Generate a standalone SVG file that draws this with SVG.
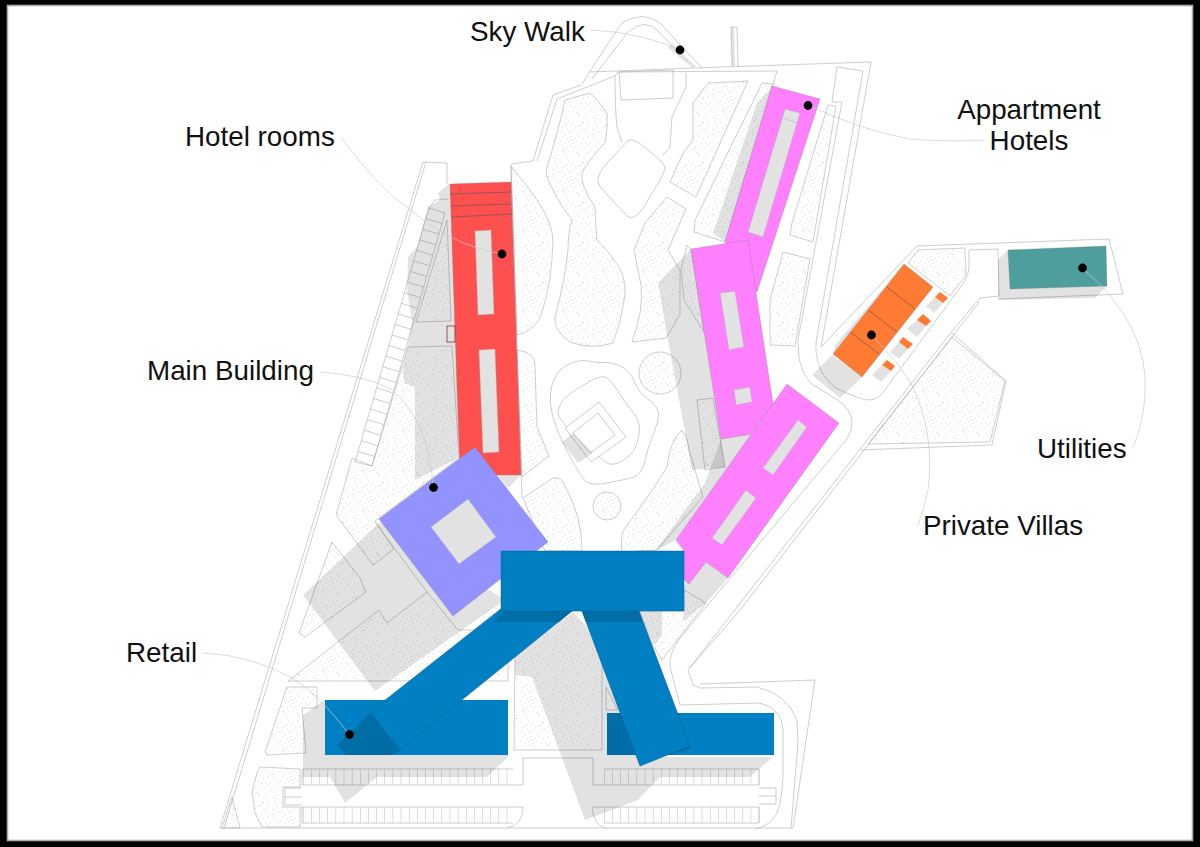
<svg xmlns="http://www.w3.org/2000/svg" width="1200" height="847" viewBox="0 0 1200 847">
<style>
.l{fill:none;stroke:#adadad;stroke-width:.6;stroke-linejoin:round}
.g{fill:url(#st);stroke:#adadad;stroke-width:.6;stroke-linejoin:round}
.s{fill:#000;fill-opacity:.115;stroke:none}
.h{fill:#e2e2e2;stroke:#a8a8a8;stroke-width:.4}
.lead{fill:none;stroke:#cbcbcb;stroke-width:.7}
.t{font-family:"Liberation Sans",Arial,sans-serif;font-size:27.8px;fill:#111}
.b{stroke:#777;stroke-width:.3}
.bl{fill:#0080c2;stroke:#00588a;stroke-width:.5}
.dk{fill:#006da6}
.tick{fill:none;stroke:#bcbcbc;stroke-width:16;stroke-dasharray:.5 7.65}
.ln{fill:none;stroke:#555;stroke-width:.6}
</style>
<defs>
<pattern id="st" width="40" height="40" patternUnits="userSpaceOnUse">
<rect width="40" height="40" fill="#fff"/>
<path fill="none" stroke="#b2b2b2" stroke-width=".6" stroke-linecap="round" d="M1 2h.01M5.500 4h.01M9 1h.01M13 3.500h.01M17.500 1.500h.01M21 4.500h.01M26 2h.01M30 5h.01M34.500 1h.01M38 3.500h.01M3 7.500h.01M7.500 9h.01M11 6.500h.01M15.500 8h.01M19 6.500h.01M24 8.500h.01M28 7h.01M32.500 9.500h.01M36.500 7h.01M1.500 12h.01M5 14h.01M9.500 12.500h.01M13.500 11h.01M17 13.500h.01M22 12h.01M26 11.500h.01M30 13.500h.01M34 12h.01M38.500 11.500h.01M3.500 17h.01M7 19h.01M11.500 16.500h.01M15 18h.01M19.500 16h.01M23.500 18.500h.01M28 16.500h.01M32 18h.01M36 16h.01M1 21.500h.01M5.500 23h.01M9 21.500h.01M13 23h.01M17.500 21h.01M21.500 23.500h.01M26 21h.01M30.500 22.500h.01M34.500 21h.01M38.500 23h.01M3 26.500h.01M7.500 28h.01M11 25.500h.01M15.500 27.500h.01M19.500 26h.01M24 28h.01M28 25.500h.01M32 27.500h.01M36.500 26h.01M1.500 31h.01M5 33h.01M9.500 31.500h.01M13.500 30h.01M17 32.500h.01M22 31h.01M26.500 33h.01M30 30.500h.01M34 32h.01M38 30.500h.01M3.500 36h.01M7 38h.01M11.500 35.500h.01M15 37.500h.01M19.500 35.500h.01M24 37.500h.01M28 35.500h.01M32.500 37.500h.01M36.500 35.500h.01"/>
<path fill="none" stroke="#777" stroke-width=".6" stroke-linecap="round" d="M6 6h.01M23 2.500h.01M33 14.500h.01M12 20h.01M27 24h.01M4 30.500h.01M18 34.500h.01M36 38.500h.01"/>
</pattern>
</defs>

<g id="frame">
<rect width="1200" height="847" fill="#000"/>
<rect x="7.500" y="5.500" width="1185" height="835" fill="#fff" stroke="#aaa" stroke-width="1.6"/>
</g>

<g id="gardens">
<path class="g" d="M511,166 L530,190 Q553,220 553,240 Q552,285 540,318 Q532,332 517,335 Z"/>
<path class="g" d="M517,350 Q535,352 535,365 L537,427 L549,456 L522,477 Z"/>
<path class="g" d="M523,498 L553,478 Q562,476 566,488 Q582,517 582,551 L545,551 Z"/>
<path class="g" d="M590,93 Q600,102 607,113 Q608,130 605,143 Q588,160 582,173 Q580,185 595,207 Q596,230 597,240 Q615,258 622,273 Q626,285 625,295 Q622,320 613,343 Q592,350 570,342 Q553,330 555,317 Q565,280 568,250 Q568,232 572,220 Q560,205 553,190 Q544,175 547,167 Q560,125 565,100 Z"/>
<path class="g" d="M708,83 L748,81 L696,197 L670,182 L683,153 L693,140 L693,103 Z"/>
<path class="g" d="M667,197 L686,209 L668,250 L680,270 L680,315 L666,338 L632,342 Q644,310 641,285 L634,250 L645,223 Z"/>
<circle class="g" cx="660" cy="373" r="21"/>
<circle class="g" cx="607" cy="506" r="14"/>
<path class="g" d="M682,430 Q688,438 689,450 L703,497 L657,550 L622,552 Q620,535 625,528 Q650,495 667,467 Q670,440 682,430 Z"/>
<path class="g" d="M762,83 L773,84 L725,242 L694,232 L695,220 Z"/>
<path class="g" d="M783,252 L810,259 L795,346 L770,345 L770,300 Z"/>
<path class="g" d="M828,105 L836,106 L813,242 L790,235 L792,223 Z"/>
<path class="g" d="M697,400 L713,398 L725,467 L705,470 Z"/>
<path class="g" d="M687,245 L691,249 L704,332 L684,300 L681,270 Z"/>
<path class="g" d="M918,250 L965,248 L966,275 L950,296 L908,263 Z"/>
<path class="g" d="M952,337 L1005,381 L990,442 L868,444 Z"/>
<path class="g" d="M287,687 L317,687 L317,708 L302,708 L306,753 L267,755 L265,752 Z"/>
<path class="g" d="M260,767 L300,769 L300,787 L283,787 L283,807 L300,807 L300,827 L262,827 L255,813 L252,792 L257,773 Z"/>
<path class="g" d="M232,797 L240,828 L222,828 Z"/>
<path class="g" d="M332,542 L360,578 L366,592 L305,637 L299,633 Z"/>
<path class="g" d="M288,681 L379,610 L387,623 L427,592 L458,630 L505,630 L508,660 L508,681 Z"/>
<path class="g" d="M515,640 L540,611 L602,611 L602,750 L514,750 Z"/>
<path class="g" d="M606,687 L618,710 L606,710 Z"/>
<path class="g" d="M640,611 L684,611 L684,590 L706,603 L662,660 L650,640 Z"/>
<path class="g" d="M408,347 L452,346 L459,458 L375,521 L394,549 L373,565 L336,515 L352,458 L372,466 Z"/>
<path class="g" d="M447,220 L451,321 L416,322 Z"/>
</g>

<g id="site-lines">
<path class="l" d="M220,828 L423,162 L447,163 L447,184"/>
<path class="l" d="M224,828 L426,162"/>
<path class="l" d="M220,828 L793,828"/>
<path class="l" d="M511,164 L533,161 L553,95 L581,85"/>
<path class="l" d="M511,165 L522,498"/>
<path class="l" d="M537,161 L557,99 L615,76 L618,72"/>
<path class="l" d="M590,72 L693,68 L871,62 L821,347 L917,246 L1109,239 L1123,294 L999,299"/>
<path class="l" d="M618,72 L777,71 L773,85"/>
<path class="l" d="M619,72 L673,70 L673,98 L621,100 Z"/>
<path class="l" d="M615,76 Q615,110 617,127 L622,143"/>
<path class="l" d="M686,73 L686,87 L672,117 L670,147 L663,155"/>
<path class="l" d="M627.500,141 Q633,136 649,151 Q665,163 665,168 Q665,173 649,198 Q636,223 627,216 Q610,198 604,191 Q597,185 598,178 Q600,170 610,160 Z"/>
<path class="l" d="M832,102 L837,67 L863,71 L816,342 L816,352 Q818,375 836,388 Q860,400 869,400 Q878,400 884,391 L962,285 Q970,275 969,262 L969,250 L998,249 L999,296 L980,298 L953,330 L688,670 L693,685 L700,688 L757,687 Q787,694 797,720 L798,743 L791,828"/>
<path class="l" d="M832,102 L842,102 L798,340 L799,358 Q802,375 813,385 L838,400 Q852,410 852,423 Q852,432 846,440 L680,638 Q668,655 670,667 L680,705 L760,703 Q782,708 783,730 L783,777 Q782,800 777,813 Q770,826 755,829"/>
<path class="l" d="M980,301 L955,333 L740,610 L690,668"/>
<path class="l" d="M700,684 L815,680 L793,828"/>
<path class="l" d="M952,333 L1006,381 L992,445 L860,450"/>
<path class="l" d="M429,208 L445,213 L372,466 L355,462 Z"/>
<path class="l" d="M429,208 L435,200 L448,199"/>
<path class="l" d="M445,213 m-19.08 5.580 l16 5 m-19.08 5.580 l16 5 m-19.08 5.580 l16 5 m-19.08 5.580 l16 5 m-19.08 5.580 l16 5 m-19.08 5.580 l16 5 m-19.08 5.580 l16 5 m-19.08 5.580 l16 5 m-19.08 5.580 l16 5 m-19.08 5.580 l16 5 m-19.08 5.580 l16 5 m-19.08 5.580 l16 5 m-19.08 5.580 l16 5 m-19.08 5.580 l16 5 m-19.08 5.580 l16 5 m-19.08 5.580 l16 5 m-19.08 5.580 l16 5 m-19.08 5.580 l16 5 m-19.08 5.580 l16 5 m-19.08 5.580 l16 5 m-19.08 5.580 l16 5 m-19.08 5.580 l16 5 m-19.08 5.580 l16 5"/>
<path class="l" d="M375,522 L427,592"/>
<path class="l" d="M302,769 L513,769 M302,785 L523,785 L523,758 L593,758 L593,785 L759,785 M604,769 L759,769 L759,785"/>
<path class="l" d="M302,769 L302,785 M302,807 L523,807 Q523,825 507,828 M302,823 L513,823 M302,807 L302,823"/>
<path class="l" d="M592,807 L759,807 L759,823 L604,823 M592,807 Q593,825 607,829"/>
<path class="l" d="M759,788 L776,788 L776,804 L759,804 M759,796 L776,796"/>
<path class="l" d="M302,788 L285,788 L285,805 L302,805 M285,797 L302,797"/>
<path class="tick" d="M303,777 L513,777"/>
<path class="tick" d="M303,815 L513,815"/>
<path class="tick" d="M604,777 L760,777"/>
<path class="tick" d="M604,815 L760,815"/>
<path class="l" d="M582,84 Q610,40 622,23 Q643,10 660,23 L702,68"/>
<path class="l" d="M592,79 L628,32 Q645,18 657,30 L693,68"/>
<path d="M668,48 L693,68 L697,68 L672,43 Z" fill="#e2e2e2"/>
<path d="M731,27 L734,27 L735,67 L732,67 Z" fill="#e2e2e2"/>
<path class="l" d="M731,27 L737,27 L738,67 M731,27 L732,67"/>
<path class="l" d="M588,361 Q598,363 604,362.500 Q610,362 620,366 Q630,370 634,381 Q638,392 648.500,399.500 Q659,407 658.500,415 Q658,423 653,435 Q648,447 645,461 Q642,475 632.500,477.500 Q623,480 607.500,483 Q592,486 586,481.500 Q580,477 564,445 Q548,413 550.500,393 Q553,373 565.500,366 Q578,359 588,361 Z"/>
<path class="l" d="M592.500,380 Q600,376 605,377 Q610,378 617.500,390.500 Q625,403 633.500,413 Q642,423 638.500,438 Q635,453 624,460 Q613,467 606.500,462.500 Q600,458 580,440 Q558,420 558,413 Q558,407 562.500,401 Q567,395 576,389.500 Q585,384 592.500,380 Z"/>
<path d="M599,402 L626,437 L591,462 L565,428 Z" fill="#fff" stroke="#adadad" stroke-width=".6"/>
<path class="l" d="M598,413 L615,435 L590,453 L573,433 Z"/>
</g>

<g id="shadows">
<path class="s" d="M562,442 L578,463 L593,453 L573,433 Z"/>
<path class="s" d="M450,183 L438,193 L440,200 L428,207 L417,247 L408,257 L407,290 L412,320 L408,347 L403,367 L404,383 L415,387 L415,480 L458,458 L462,300 Z"/>
<path class="s" d="M498,475 L521,475 L508,488 Z"/>
<path class="s" d="M303,595 L380,522 L505,600 L375,691 Z"/>
<path class="s" d="M325,700 L303,715 L303,777 L330,777 L345,803 L377,777 L487,777 L508,757 L508,700 Z"/>
<path class="s" d="M573,612 L515,657 L515,675 L532,677 L585,820 L638,800 L660,777 L750,777 L773,757 L640,757 L600,640 Z"/>
<path class="s" d="M640,611 L662,611 L662,635 L655,645 L650,640 Z"/>
<path class="s" d="M691,249 L658,283 L668,340 L692,470 L725,467 L721,439 Z"/>
<path class="s" d="M721,439 L775,403 L676,540 L655,551 L705,483 Z"/>
<path class="s" d="M684,585 L706,562 L728,578 L706,603 L683,622 L684,611 Z"/>
<path class="s" d="M772,87 L757,103 L713,233 L725,242 Z"/>
<path class="s" d="M832,355 L812,375 L840,398 L862,377 Z"/>
<path class="s" d="M904,264 L835,345 L833,354 Z"/>
<path class="s" d="M1008,250 L998,260 L998,300 L1095,298 L1107,286 Z"/>
</g>

<g id="hotel-rooms">
<path class="b" fill="#ff5050" d="M450,184 L511,182 L521,475 L498,475 L460,475 Z"/>
<path class="h" d="M475,231 L491,230 L494,314 L478,315 Z"/>
<path class="h" d="M479,350 L495,349 L499,452 L483,453 Z"/>
<path class="ln" d="M450,194 L511,192 M451,206 L511,204 M451,217 L512,214"/>
<rect x="447" y="326" width="8" height="16" fill="none" stroke="#8a3030" stroke-width=".8"/>
</g>

<g id="appartment-hotels">
<path class="b" fill="#ff80ff" d="M772,86 L820,99 L757,292 L725,242 Z"/>
<path class="h" d="M785,109 L800,113 L763,237 L748,232 Z"/>
<path d="M783,118 L798,123" stroke="#a8a8a8" stroke-width=".5"/>
<path class="b" fill="#ff80ff" d="M691,249 L748,240 L773,404 L750,434.500 L721,439 Z"/>
<path class="h" d="M720,293 L735,291 L744,347 L729,350 Z"/>
<path class="h" d="M734,390 L750,387 L752,402 L736,405 Z"/>
<path class="b" fill="#ff80ff" d="M676,540 L787,384 L839,423 L728,578 L706,562 L689,584 L684,580 L684,551 Z"/>
<path class="h" d="M798,420 L807,427 L773,475 L763,468 Z"/>
<path class="h" d="M746,490 L756,498 L722,545 L712,538 Z"/>
</g>

<g id="main-building">
<path class="b" fill="#9393ff" d="M379,519 L475,447 L548,542 L453,616 Z"/>
<path class="h" d="M468,499 L496,537 L459,564 L431,527 Z"/>
</g>

<g id="private-villas">
<path class="b" fill="#ff7a33" d="M904,264 L933,287 L862,377 L833,354 Z"/>
<path class="ln" d="M887,287 L915,309 M868,310 L897,332 M850,332 L879,354"/>
<g fill="#e2e2e2">
<path d="M935,297 L943,303 L934,313 L926,306 Z"/>
<path d="M917,320 L926,326 L917,337 L907,329 Z"/>
<path d="M899,342 L908,349 L899,359 L890,352 Z"/>
<path d="M882,365 L891,371 L881,382 L872,375 Z"/>
</g>
<g fill="#ff7a33">
<path d="M940,292 L948,298 L943,303 L935,297 Z"/>
<path d="M923,314 L931,321 L926,326 L917,320 Z"/>
<path d="M903,337 L913,344 L908,349 L899,342 Z"/>
<path d="M887,360 L895,366 L891,371 L882,365 Z"/>
</g>
</g>

<g id="utilities">
<path class="b" fill="#4f9e9e" d="M1008,250 L1106,246 L1107,286 L1010,289 Z"/>
</g>

<g id="retail">
<rect x="325" y="700" width="183" height="55" fill="#0080c2"/>
<rect x="607" y="713" width="167" height="42" fill="#0080c2"/>
<path class="dk" d="M337,745 L372,712 L400,751 L390,755 L346,755 Z"/>
<path class="dk" d="M607,713 L620,713 L636,755 L607,755 Z"/>
<path class="dk" d="M690,746 L660,755 L670,755 L691,748 Z"/>
<path class="bl" d="M370,712 L502,608 L572,611 L400,750 Z"/>
<path class="bl" d="M582,611 L639,611 L690,746 L640,766 Z"/>
<path class="dk" d="M492,622 L505,611 L572,611 L559,622 Z"/>
<path class="dk" d="M586,622 L582,611 L639,611 L643,622 Z"/>
<rect x="501" y="551" width="183" height="60" fill="#0080c2" stroke="#00588a" stroke-width=".4"/>
</g>

<g id="leaders">
<path class="lead" d="M590,30 Q640,32 680,50"/>
<path class="lead" d="M808,105 Q860,130 910,139 Q950,142 985,140"/>
<path class="lead" d="M341,137 Q380,190 407,207 Q450,245 502,254"/>
<path class="lead" d="M320,372 Q365,375 393,390 Q430,425 433,487"/>
<path class="lead" d="M203,653 Q250,655 290,677 Q315,690 349,734"/>
<path class="lead" d="M871,335 Q897,360 913,387 Q935,435 928,490 Q924,510 918,525"/>
<path class="lead" d="M1082,268 Q1150,325 1145,395 Q1143,425 1133,447"/>
</g>

<g id="dots" fill="#000">
<circle cx="680" cy="50" r="4.400"/>
<circle cx="808" cy="105.500" r="4.400"/>
<circle cx="502" cy="254" r="4.400"/>
<circle cx="433.500" cy="487.500" r="4.400"/>
<circle cx="349.500" cy="734.500" r="4.400"/>
<circle cx="871.500" cy="335" r="4.400"/>
<circle cx="1082.500" cy="268" r="4.400"/>
</g>

<g id="labels">
<text class="t" x="470" y="41">Sky Walk</text>
<text class="t" x="185" y="146">Hotel rooms</text>
<text class="t" x="147" y="380">Main Building</text>
<text class="t" x="126" y="662">Retail</text>
<text class="t" x="1029" y="119" text-anchor="middle">Appartment</text>
<text class="t" x="1029" y="150" text-anchor="middle">Hotels</text>
<text class="t" x="1037" y="458">Utilities</text>
<text class="t" x="923" y="535">Private Villas</text>
</g>
</svg>
